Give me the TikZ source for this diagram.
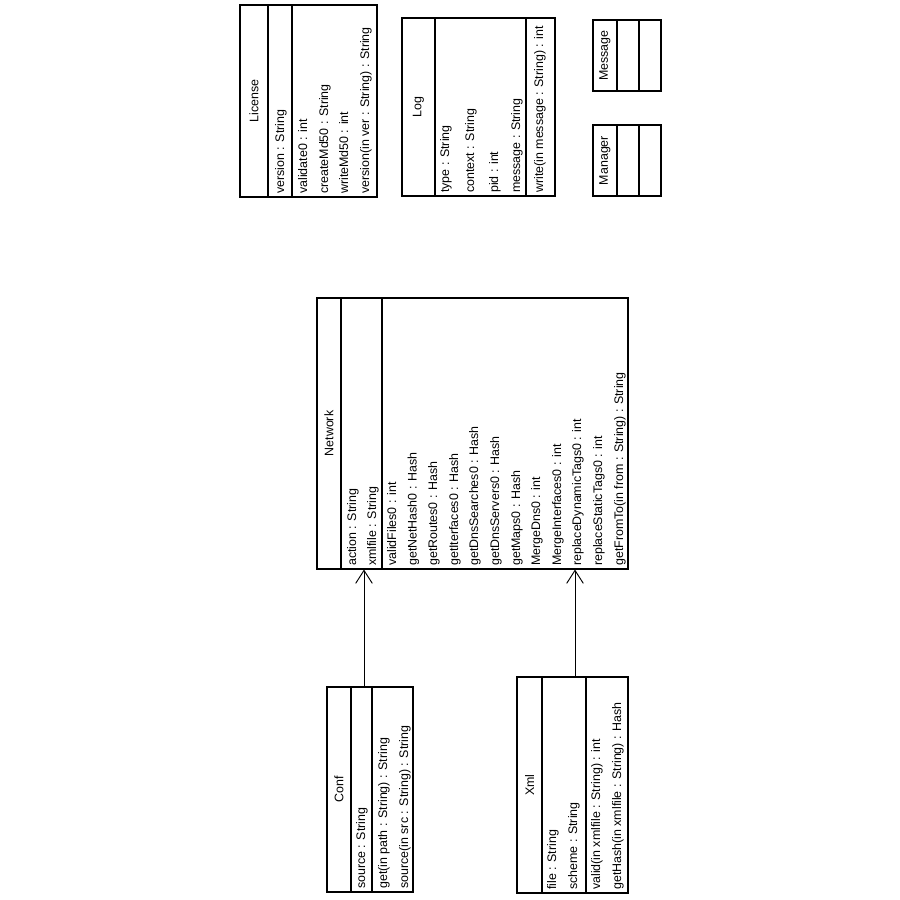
\documentclass[tikz,border=0pt]{standalone}
\usepackage{fontspec}
\setmainfont{Liberation Sans}
\usetikzlibrary{arrows.meta, fit}

\begin{document}
\begin{tikzpicture}[
    x=0.03cm, y=-0.03cm,
    font=\fontsize{10.6}{13}\selectfont,
    classbox/.style={draw, line width=0.9pt, inner sep=0pt, fit={#1}},
    divider/.style={line width=0.9pt},
    title/.style={rotate=90, inner sep=0pt},
    member/.style={rotate=90, anchor=west, inner sep=0pt, text height=0.72em, text depth=0.2em},
    arrow/.style={-{Straight Barb[length=3.9mm, width=5mm]}, line width=0.8pt}
]
\useasboundingbox (0,0) rectangle (900,900);

% License
\node[classbox={(240,5) (377,197)}] (license) {};
\draw[divider] (268,5) -- (268,197);
\draw[divider] (292,5) -- (292,197);
\node[title] (licensetitle) at (254,101) {License};
\node[member] (lic1) at (281,194) {version : String};
\node[member] (lic2) at (304,194) {validate0 : int};
\node[member] (lic3) at (325,194) {createMd50 : String};
\node[member] (lic4) at (345,194) {writeMd50 : int};
\node[member] (lic5) at (366,194) {version(in ver : String) : String};

% Log
\node[classbox={(402,18) (555,196)}] (log) {};
\draw[divider] (435,18) -- (435,196);
\draw[divider] (526,18) -- (526,196);
\node[title] (logtitle) at (418.5,107) {Log};
\node[member] (log1) at (446,193) {type : String};
\node[member] (log2) at (471,193) {context : String};
\node[member] (log3) at (495,193) {pid : int};
\node[member] (log4) at (517,193) {message : String};
\node[member] (log5) at (540,193) {write(in message : String) : int};

% Message and Manager
\node[classbox={(593,20) (661,91)}] (message) {};
\draw[divider] (617,20) -- (617,91);
\draw[divider] (639,20) -- (639,91);
\node[title] (messagetitle) at (605,55.5) {Message};

\node[classbox={(593,125) (661,196)}] (manager) {};
\draw[divider] (617,125) -- (617,196);
\draw[divider] (639,125) -- (639,196);
\node[title] (managertitle) at (605,160.5) {Manager};

% Network
\node[classbox={(317,298) (628,569)}] (network) {};
\draw[divider] (341,298) -- (341,569);
\draw[divider] (382,298) -- (382,569);
\node[title] (networktitle) at (329,433.5) {Network};
\node[member] (net1) at (353,566) {action : String};
\node[member] (net2) at (373,566) {xmlfile : String};
\node[member] (net3) at (393,566) {validFiles0 : int};
\node[member] (net4) at (413.6,566) {getNetHash0 : Hash};
\node[member] (net5) at (434,566) {getRoutes0 : Hash};
\node[member] (net6) at (455,566) {getIterfaces0 : Hash};
\node[member] (net7) at (475,566) {getDnsSearches0 : Hash};
\node[member] (net8) at (496,566) {getDnsServers0 : Hash};
\node[member] (net9) at (517,566) {getMaps0 : Hash};
\node[member] (net10) at (537,566) {MergeDns0 : int};
\node[member] (net11) at (558,566) {MergeInterfaces0 : int};
\node[member] (net12) at (578,566) {replaceDynamicTags0 : int};
\node[member] (net13) at (599,566) {replaceStaticTags0 : int};
\node[member] (net14) at (620,566) {getFromTo(in from : String) : String};

% Conf
\node[classbox={(327,687) (413,892)}] (conf) {};
\draw[divider] (351,687) -- (351,892);
\draw[divider] (372,687) -- (372,892);
\node[title] (conftitle) at (339,789.5) {Conf};
\node[member] (conf1) at (362,889) {source : String};
\node[member] (conf2) at (384,889) {get(in path : String) : String};
\node[member] (conf3) at (405,889) {source(in src : String) : String};

% Xml
\node[classbox={(517,677) (628,893)}] (xml) {};
\draw[divider] (542,677) -- (542,893);
\draw[divider] (586,677) -- (586,893);
\node[title] (xmltitle) at (529.5,785) {Xml};
\node[member] (xml1) at (553,890) {file : String};
\node[member] (xml2) at (574,890) {scheme : String};
\node[member] (xml3) at (597,890) {valid(in xmlfile : String) : int};
\node[member] (xml4) at (618,890) {getHash(in xmlfile : String) : Hash};

% associations
\coordinate (confout) at ([xshift=-0.18cm]conf.north);
\coordinate (xmlout) at ([xshift=0.075cm]xml.north);
\draw[arrow] (confout) -- (confout |- network.south);
\draw[arrow] (xmlout) -- (xmlout |- network.south);
\end{tikzpicture}
\end{document}
